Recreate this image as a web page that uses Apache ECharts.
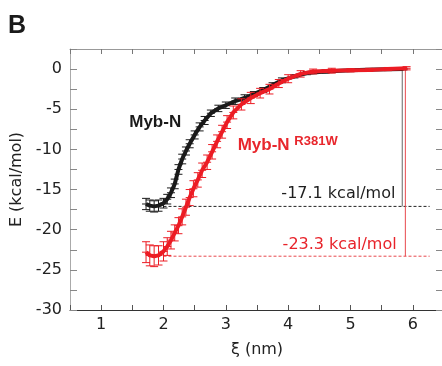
<!DOCTYPE html>
<html>
<head>
<meta charset="utf-8">
<script src="https://cdn.jsdelivr.net/npm/echarts@6/dist/echarts.min.js"></script>
<style>
  html, body { margin: 0; padding: 0; background: #fff; }
  #chart { width: 442px; height: 366px; }
</style>
</head>
<body>
<div id="chart"></div>
<script>
// Myb-N (wild type) free energy profile
const mybX = [1.72, 1.78, 1.85, 1.92, 2.0, 2.06, 2.12, 2.18, 2.24, 2.3, 2.36, 2.42, 2.5, 2.58, 2.66, 2.76, 2.88, 3.0, 3.15, 3.3, 3.45, 3.6, 3.75, 3.9, 4.1, 4.3, 4.6, 5.0, 5.4, 5.85];
const mybE = [-16.8, -17.0, -17.1, -17.0, -16.7, -16.2, -15.4, -14.3, -12.5, -11.2, -10.2, -9.3, -8.2, -7.2, -6.4, -5.5, -4.9, -4.5, -4.0, -3.6, -3.1, -2.6, -2.0, -1.4, -0.9, -0.5, -0.3, -0.15, -0.05, 0];
const mybErr = [0.7, 0.7, 0.7, 0.7, 0.6, 0.6, 0.6, 0.6, 0.6, 0.6, 0.5, 0.5, 0.5, 0.5, 0.5, 0.4, 0.4, 0.4, 0.4, 0.4, 0.3, 0.3, 0.3, 0.3, 0.2, 0.2, 0.2, 0.1, 0.1, 0.1];

// Myb-N R381W mutant
const mutX = [1.72, 1.78, 1.85, 1.92, 2.0, 2.06, 2.12, 2.18, 2.24, 2.3, 2.36, 2.42, 2.48, 2.55, 2.62, 2.7, 2.78, 2.86, 2.94, 3.02, 3.12, 3.25, 3.4, 3.55, 3.7, 3.85, 4.0, 4.2, 4.4, 4.7, 5.0, 5.3, 5.6, 5.9];
const mutE = [-22.8, -23.2, -23.3, -23.2, -22.7, -22.1, -21.3, -20.4, -19.5, -18.4, -17.2, -16.0, -14.9, -13.8, -12.6, -11.6, -10.3, -9.0, -7.8, -6.6, -5.4, -4.4, -3.6, -3.0, -2.5, -1.8, -1.2, -0.6, -0.3, -0.2, -0.15, -0.1, 0, 0.1];
const mutErr = [1.3, 1.3, 1.3, 1.2, 1.2, 1.1, 1.1, 1.0, 1.0, 1.0, 1.0, 1.0, 1.0, 0.9, 0.9, 0.9, 0.9, 0.8, 0.8, 0.8, 0.8, 0.7, 0.7, 0.6, 0.6, 0.5, 0.5, 0.4, 0.3, 0.3, 0.2, 0.2, 0.2, 0.2];

// binding free energy markers
const dG = { myb: -17.1, mut: -23.3 };
const dashFrom = 2.0, dashTo = 6.27;
const vlineX = { myb: 5.83, mut: 5.88 };
const dGLabelPos = { myb: [5.72, -15.5], mut: [5.74, -21.9] };
const nameLabelPos = { myb: [1.45, -6.6], mut: [3.19, -9.5] };

const xTickLabels = ['1', '2', '3', '4', '5', '6'];
const yTickLabels = ['0', '-5', '-10', '-15', '-20', '-25', '-30'];

const BLACK = '#1a1a1a';
const RED = '#ec1c24';
const FONT = 'DejaVu Sans';

const zip3 = (xs, ys, es) => xs.map((x, i) => [x, ys[i], es[i]]);

function errorBars(params, api) {
	const x = api.value(0), y = api.value(1), e = api.value(2);
	const top = api.coord([x, y + e]);
	const bot = api.coord([x, y - e]);
	const mid = api.coord([x, y]);
	const style = { stroke: api.visual('color'), lineWidth: 1 };
	const cap = 4;
	return {
		type: 'group',
		children: [
			{ type: 'line', shape: { x1: top[0], y1: top[1], x2: bot[0], y2: bot[1] }, style },
			{ type: 'line', shape: { x1: top[0] - cap, y1: top[1], x2: top[0] + cap, y2: top[1] }, style },
			{ type: 'line', shape: { x1: bot[0] - cap, y1: bot[1], x2: bot[0] + cap, y2: bot[1] }, style },
			{ type: 'line', shape: { x1: mid[0] - cap, y1: mid[1], x2: mid[0] + cap, y2: mid[1] }, style },
		],
	};
}

const chart = echarts.init(document.getElementById('chart'), null, { renderer: 'canvas' });

const axisLabel = { color: '#222', fontFamily: FONT, fontSize: 16 };
const plainLabel = { textBorderWidth: 0, textShadowBlur: 0, opacity: 1 };

const option = {
	animation: false,
	backgroundColor: '#fff',
	grid: { left: 70, width: 374, top: 49, height: 261, outerBoundsMode: 'none', containLabel: false },
	xAxis: [
		{
			type: 'value', min: 0.5, max: 6.5, interval: 0.5,
			name: 'ξ (nm)', nameLocation: 'middle', nameGap: 32,
			nameTextStyle: { color: '#222', fontFamily: FONT, fontSize: 16 },
			axisLine: { show: true, onZero: false, lineStyle: { color: '#333', width: 1 } },
			axisTick: { inside: true, length: 5, lineStyle: { color: '#555' } },
			axisLabel: {
				...axisLabel, margin: 7,
				formatter: v => (Number.isInteger(v) && xTickLabels.includes(String(v)) ? String(v) : ''),
			},
			splitLine: { show: false },
		},
		{
			type: 'value', position: 'top', min: 0.5, max: 6.5, interval: 0.5,
			axisLine: { show: true, onZero: false, lineStyle: { color: '#999' } },
			axisTick: { inside: true, length: 5, lineStyle: { color: '#777' } },
			axisLabel: { show: false },
			splitLine: { show: false },
		},
	],
	yAxis: [
		{
			type: 'value', min: -30, max: 2.5, interval: 2.5,
			name: 'E (kcal/mol)', nameLocation: 'middle', nameGap: 41,
			nameTextStyle: { color: '#222', fontFamily: FONT, fontSize: 16 },
			axisLine: { show: true, onZero: false, lineStyle: { color: '#aaa' } },
			axisTick: { inside: true, length: 7, lineStyle: { color: '#888' } },
			axisLabel: {
				...axisLabel, margin: 8,
				formatter: v => (yTickLabels.includes(String(v)) ? String(v) : ''),
			},
			splitLine: { show: false },
		},
		{
			type: 'value', position: 'right', min: -30, max: 2.5, interval: 2.5,
			axisLine: { show: false },
			axisTick: { show: true, inside: true, length: 8, lineStyle: { color: '#888' } },
			axisLabel: { show: false },
			splitLine: { show: false },
		},
	],
	series: [
		{
			type: 'line', silent: true, symbol: 'none', z: 1,
			data: [[dashFrom, dG.myb], [dashTo, dG.myb]],
			lineStyle: { color: '#222', width: 1, type: [3, 2] },
		},
		{
			type: 'line', silent: true, symbol: 'none', z: 1,
			data: [[dashFrom, dG.mut], [dashTo, dG.mut]],
			lineStyle: { color: '#e8484d', width: 1, type: [3, 2] },
		},
		{
			type: 'line', silent: true, symbol: 'none', z: 1,
			data: [[vlineX.myb, 0], [vlineX.myb, dG.myb]],
			lineStyle: { color: '#666', width: 1 },
		},
		{
			type: 'line', silent: true, symbol: 'none', z: 1,
			data: [[vlineX.mut, 0.1], [vlineX.mut, dG.mut]],
			lineStyle: { color: '#e8484d', width: 1 },
		},
		{
			type: 'custom', name: 'Myb-N err', z: 2, renderItem: errorBars,
			itemStyle: { color: BLACK },
			data: zip3(mybX, mybE, mybErr),
		},
		{
			type: 'line', name: 'Myb-N', z: 3, symbol: 'none',
			data: mybX.map((x, i) => [x, mybE[i]]),
			lineStyle: { color: BLACK, width: 4 },
		},
		{
			type: 'custom', name: 'R381W err', z: 4, renderItem: errorBars,
			itemStyle: { color: RED },
			data: zip3(mutX, mutE, mutErr),
		},
		{
			type: 'line', name: 'Myb-N R381W', z: 5, symbol: 'none',
			data: mutX.map((x, i) => [x, mutE[i]]),
			lineStyle: { color: RED, width: 4 },
		},
		{
			type: 'scatter', silent: true, symbolSize: 0, z: 6,
			itemStyle: { opacity: 0 },
			data: [
				{ value: dGLabelPos.myb, label: { formatter: '-17.1 kcal/mol', color: '#1e1e1e' } },
				{ value: dGLabelPos.mut, label: { formatter: '-23.3 kcal/mol', color: '#e8232a' } },
			],
			label: {
				show: true, position: 'inside', align: 'right', verticalAlign: 'middle',
				fontFamily: FONT, fontSize: 16, ...plainLabel,
			},
		},
		{
			type: 'scatter', silent: true, symbolSize: 0, z: 6,
			itemStyle: { opacity: 0 },
			data: [
				{ value: nameLabelPos.myb, label: { formatter: 'Myb-N', color: '#1a1a1a' } },
				{ value: nameLabelPos.mut, label: { formatter: '{m|Myb-N }{s|R381W}' } },
			],
			label: {
				show: true, position: 'inside', align: 'left', verticalAlign: 'middle',
				fontFamily: 'Liberation Sans', fontWeight: 'bold', fontSize: 17, ...plainLabel,
				rich: {
					m: { color: '#e8262c', fontFamily: 'Liberation Sans', fontWeight: 'bold', fontSize: 17, ...plainLabel },
					s: { color: '#e8262c', fontFamily: 'Liberation Sans', fontWeight: 'bold', fontSize: 13, verticalAlign: 'top', padding: [0, 0, 8, 0], ...plainLabel },
				},
			},
		},
	],
	graphic: [
		{
			type: 'text', left: 8, top: 14,
			style: { text: 'B', fontFamily: 'Liberation Sans', fontWeight: 'bold', fontSize: 25, fill: '#1a1a1a' },
		},
	],
};

chart.setOption(option);
</script>
</body>
</html>
